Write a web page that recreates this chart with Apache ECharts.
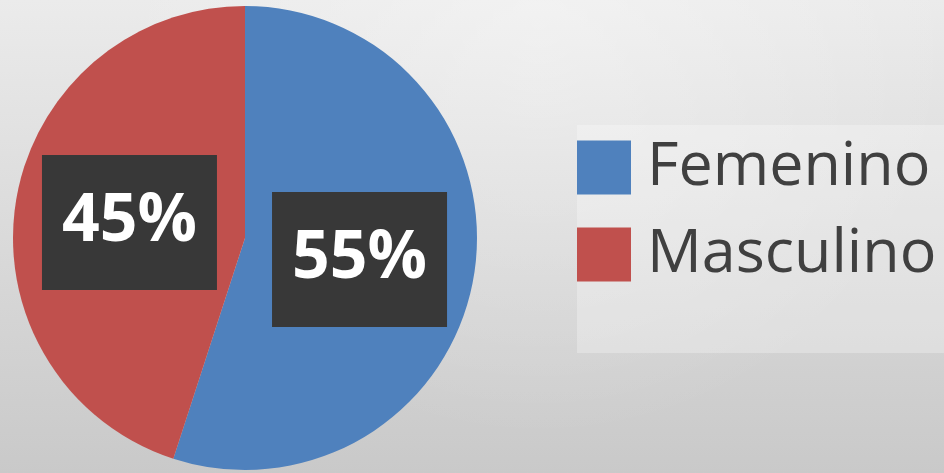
<!DOCTYPE html>
<html>
<head>
<meta charset="utf-8">
<script src="https://cdn.jsdelivr.net/npm/echarts@6/dist/echarts.min.js"></script>
<style>
  html, body { margin: 0; padding: 0; }
  #pie { width: 944px; height: 473px; }
</style>
</head>
<body>
<div id="pie"></div>
<script>
// datos del gráfico
const categorias = ['Femenino', 'Masculino']
const valores = [55, 45]
const colores = ['#4F81BD', '#C0504D']

const chart = echarts.init(document.getElementById('pie'))

// pequeños ajustes de posición de las etiquetas
const desplazamientos = [[-3, 3], [2, 3]]

const option = {
  backgroundColor: {
    type: 'linear',
    x: 0, y: 0, x2: 0, y2: 1,
    colorStops: [
      { offset: 0, color: '#ebebeb' },
      { offset: 1, color: '#c9c9c9' }
    ]
  },
  color: colores,
  graphic: [
    {
      // brillo suave arriba al centro
      type: 'circle',
      shape: { cx: 540, cy: 20, r: 420 },
      style: {
        fill: {
          type: 'radial', x: 0.5, y: 0.5, r: 0.5,
          colorStops: [
            { offset: 0, color: 'rgba(255,255,255,0.35)' },
            { offset: 1, color: 'rgba(255,255,255,0)' }
          ]
        }
      },
      z: -1,
      silent: true
    },
    {
      // caja clara detrás de la leyenda
      type: 'rect',
      shape: { x: 577, y: 125, width: 367, height: 228 },
      style: { fill: 'rgba(255,255,255,0.28)' },
      z: 0,
      silent: true
    }
  ],
  legend: {
    orient: 'vertical',
    left: 572,
    top: 132,
    itemWidth: 54,
    itemHeight: 54,
    itemGap: 26,
    icon: 'rect',
    data: categorias,
    textStyle: {
      fontFamily: 'Open Sans',
      fontSize: 61,
      lineHeight: 36,
      color: '#404040',
      padding: [18, 0, 0, 11]
    }
  },
  series: [
    {
      type: 'pie',
      center: [245, 238],
      radius: 232,
      startAngle: 90,
      clockwise: true,
      silent: true,
      label: {
        show: true,
        position: 'inside',
        formatter: '{d}%',
        fontFamily: 'Open Sans',
        fontWeight: 'bold',
        fontSize: 66,
        color: '#ffffff',
        backgroundColor: '#383838',
        width: 175,
        height: 135,
        lineHeight: 135,
        align: 'center',
        verticalAlign: 'middle'
      },
      labelLine: { show: false },
      data: categorias.map((name, i) => ({
        name: name,
        value: valores[i],
        label: { offset: desplazamientos[i] }
      }))
    }
  ]
}

chart.setOption(option)
</script>
</body>
</html>
